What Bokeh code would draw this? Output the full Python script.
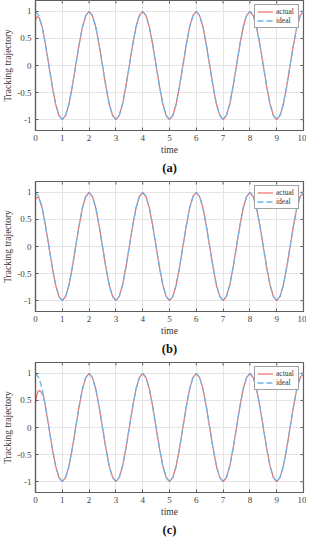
from bokeh.plotting import figure
from bokeh.layouts import column
from bokeh.models import Range1d, FixedTicker, Title, Legend, LegendItem
from bokeh.embed import file_html
from bokeh.resources import INLINE

t_ideal = [i * 0.125 for i in range(81)]
ideal = [
    1, 0.92, 0.71, 0.38, 0, -0.38, -0.71, -0.92, -1, -0.92, -0.71, -0.38, 0, 0.38, 0.71, 0.92,
    1, 0.92, 0.71, 0.38, 0, -0.38, -0.71, -0.92, -1, -0.92, -0.71, -0.38, 0, 0.38, 0.71, 0.92,
    1, 0.92, 0.71, 0.38, 0, -0.38, -0.71, -0.92, -1, -0.92, -0.71, -0.38, 0, 0.38, 0.71, 0.92,
    1, 0.92, 0.71, 0.38, 0, -0.38, -0.71, -0.92, -1, -0.92, -0.71, -0.38, 0, 0.38, 0.71, 0.92,
    1, 0.92, 0.71, 0.38, 0, -0.38, -0.71, -0.92, -1, -0.92, -0.71, -0.38, 0, 0.38, 0.71, 0.92,
    1,
]

# actual trajectories: start-up transient, then following the ideal curve
t_head_a = [0, 0.04, 0.08, 0.125]
actual_head_a = [0.84, 0.89, 0.9, 0.89]
t_head_b = [0, 0.04, 0.08, 0.125]
actual_head_b = [0.87, 0.9, 0.91, 0.9]
t_head_c = [0, 0.05, 0.1, 0.15, 0.2, 0.25, 0.3]
actual_head_c = [0.45, 0.6, 0.67, 0.68, 0.66, 0.62, 0.58]
join_a = 2   # index in ideal where actual (a) joins (t = 0.25)
join_b = 2
join_c = 3   # t = 0.375

captions = ["(a)", "(b)", "(c)"]
x_ticks = [0, 1, 2, 3, 4, 5, 6, 7, 8, 9, 10]
y_ticks = [-1, -0.5, 0, 0.5, 1]
y_tick_labels = {-1: "-1", -0.5: "-0.5", 0: "0", 0.5: "0.5", 1: "1"}
X_MIN, X_MAX = 0, 10
Y_MIN, Y_MAX = -1.2, 1.2

RED = "#f26b6b"
BLUE = "#6ab6ea"
FONT = "Liberation Serif"
AX = "#5e5e5e"
FW, FH = 268, 130


def make(cap, th, ah, j, top):
    p = figure(frame_width=FW, frame_height=FH, output_backend="svg", toolbar_location=None,
               x_range=Range1d(X_MIN, X_MAX), y_range=Range1d(Y_MIN, Y_MAX),
               min_border_left=25, min_border_right=3, min_border_top=top,
               min_border_bottom=2)
    p.background_fill_color = "white"
    p.border_fill_color = "white"
    p.outline_line_color = AX
    p.outline_line_width = 1.2

    p.grid.grid_line_color = "#e4e4e4"
    p.grid.grid_line_width = 1
    p.xgrid.ticker = FixedTicker(ticks=x_ticks)
    p.ygrid.ticker = FixedTicker(ticks=y_ticks)

    # inward ticks on the top and right edges of the box
    dy = (Y_MAX - Y_MIN) * 3 / FH
    dx = (X_MAX - X_MIN) * 3 / FW
    p.segment(x0=x_ticks, y0=[Y_MAX] * len(x_ticks), x1=x_ticks,
              y1=[Y_MAX - dy] * len(x_ticks), line_color=AX, line_width=1)
    p.segment(x0=[X_MAX] * len(y_ticks), y0=y_ticks, x1=[X_MAX - dx] * len(y_ticks),
              y1=y_ticks, line_color=AX, line_width=1)

    tx = list(th) + t_ideal[j:]
    ya = list(ah) + ideal[j:]
    r1 = p.line(tx, ya, line_color=RED, line_width=1.2)
    r2 = p.line(t_ideal, ideal, line_color=BLUE, line_width=1.3, line_dash="6 3")

    for ax in (p.xaxis[0], p.yaxis[0]):
        ax.axis_line_color = AX
        ax.axis_line_width = 1.2
        ax.major_tick_line_color = AX
        ax.major_tick_in = 3
        ax.major_tick_out = 0
        ax.minor_tick_line_color = None
        ax.major_label_text_font = FONT
        ax.major_label_text_font_size = "9px"
        ax.major_label_text_color = "#444444"
        ax.axis_label_text_font = FONT
        ax.axis_label_text_font_size = "9.5px"
        ax.axis_label_text_font_style = "normal"
        ax.axis_label_text_color = "#333333"
        ax.major_label_standoff = 4
        ax.axis_label_standoff = 1
    p.xaxis[0].ticker = FixedTicker(ticks=x_ticks)
    p.yaxis[0].ticker = FixedTicker(ticks=y_ticks)
    p.yaxis[0].major_label_overrides = y_tick_labels
    p.xaxis[0].axis_label = "time"
    p.yaxis[0].axis_label = "Tracking trajectory"

    leg = Legend(items=[LegendItem(label="actual", renderers=[r1]),
                        LegendItem(label="ideal", renderers=[r2])],
                 location="top_right")
    leg.label_text_font = FONT
    leg.label_text_font_size = "7.5px"
    leg.label_text_color = "#333333"
    leg.glyph_width = 16
    leg.glyph_height = 7
    leg.label_height = 7
    leg.label_standoff = 3
    leg.spacing = 0
    leg.padding = 2
    leg.margin = 4
    leg.border_line_color = "#444444"
    leg.border_line_width = 0.8
    leg.background_fill_alpha = 1
    p.add_layout(leg, "center")

    t = Title(text=cap, align="center", text_font=FONT, text_font_size="12.5px",
              text_font_style="bold", text_color="#111111", standoff=3)
    p.add_layout(t, "below")
    return p


figs = [
    make(captions[0], t_head_a, actual_head_a, join_a, 0),
    make(captions[1], t_head_b, actual_head_b, join_b, 5),
    make(captions[2], t_head_c, actual_head_c, join_c, 5),
]
layout = column(*figs, spacing=0)
open("out.html", "w").write(file_html(layout, INLINE))
